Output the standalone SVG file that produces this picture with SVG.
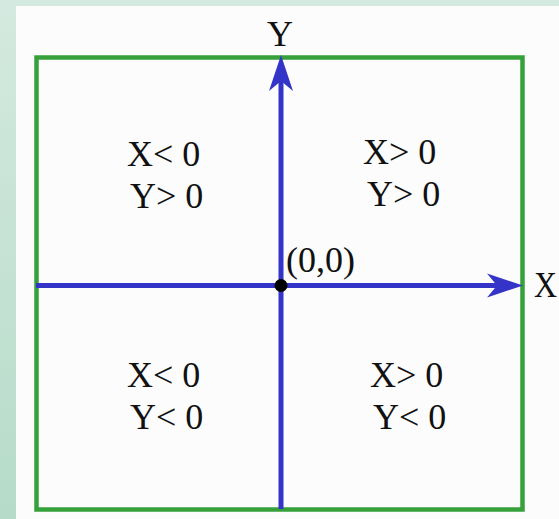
<svg xmlns="http://www.w3.org/2000/svg" width="559" height="519" viewBox="0 0 559 519">
  <style>
    .lbl { font-family: "Liberation Serif", "Times New Roman", serif; font-size: 36px; fill: #111; }
    .axis { stroke: #3434c8; stroke-width: 5; fill: none; }
    .frame { stroke: #36a03a; stroke-width: 4.5; fill: none; }
  </style>
  <defs>
    <linearGradient id="bg" x1="0" y1="0" x2="0" y2="1">
      <stop offset="0" stop-color="#d4e9df"/>
      <stop offset="1" stop-color="#b6dbc9"/>
    </linearGradient>
    <marker id="arrow" viewBox="0 0 36 26" refX="10" refY="13" markerWidth="36" markerHeight="26" markerUnits="userSpaceOnUse" orient="auto">
      <path d="M36,13 L0,1 L10,13 L0,25 Z" fill="#3434c8"/>
    </marker>
  </defs>
  <rect x="0" y="0" width="559" height="519" fill="url(#bg)"/>
  <rect x="16" y="6" width="543" height="513" fill="#fcfcfc"/>

  <g id="frame">
    <rect class="frame" x="36.5" y="57.5" width="486" height="452"/>
  </g>

  <g id="connectors">
    <line id="x-axis" class="axis" x1="36" y1="285.5" x2="497" y2="285.5" marker-end="url(#arrow)"/>
    <line id="y-axis" class="axis" x1="281" y1="509" x2="281" y2="81" marker-end="url(#arrow)"/>
  </g>

  <g id="origin">
    <circle cx="281" cy="285.5" r="6.5" fill="#000"/>
    <text class="lbl" x="286" y="272">(0,0)</text>
  </g>

  <g id="label-y"><text class="lbl" x="267" y="46">Y</text></g>
  <g id="label-x"><text class="lbl" x="534" y="297" textLength="23" lengthAdjust="spacingAndGlyphs">X</text></g>

  <g id="q2">
    <text class="lbl" x="127" y="166">X&lt; 0</text>
    <text class="lbl" x="130" y="208">Y&gt; 0</text>
  </g>
  <g id="q1">
    <text class="lbl" x="363" y="164">X&gt; 0</text>
    <text class="lbl" x="367" y="206">Y&gt; 0</text>
  </g>
  <g id="q3">
    <text class="lbl" x="127" y="387">X&lt; 0</text>
    <text class="lbl" x="130" y="429">Y&lt; 0</text>
  </g>
  <g id="q4">
    <text class="lbl" x="370" y="387">X&gt; 0</text>
    <text class="lbl" x="373" y="429">Y&lt; 0</text>
  </g>
</svg>
